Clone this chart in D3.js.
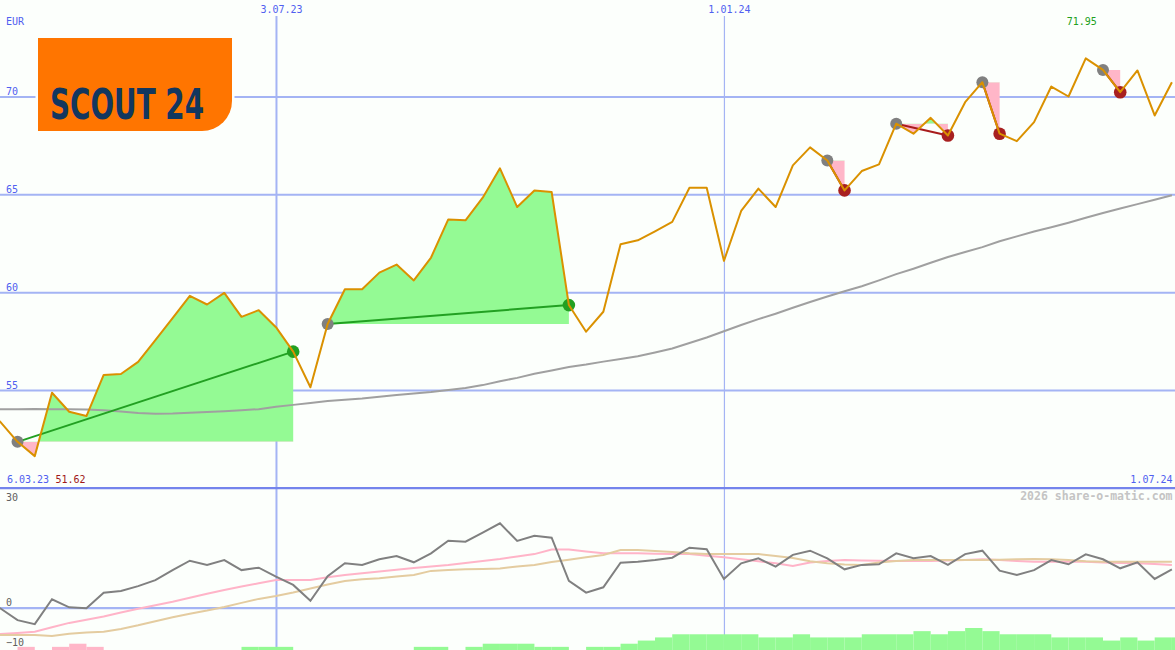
<!DOCTYPE html>
<html><head><meta charset="utf-8">
<script src="https://cdn.jsdelivr.net/npm/d3@7/dist/d3.min.js"></script>
<style>html,body{margin:0;padding:0;background:#fcfffc;}svg{display:block;}</style>
</head><body>
<svg id="c" width="1175" height="650"></svg>
<script>
// ---------- data ----------
const dates = ["2023-03-06","2023-03-13","2023-03-20","2023-03-27","2023-04-03","2023-04-10","2023-04-17","2023-04-24","2023-05-01","2023-05-08","2023-05-15","2023-05-22","2023-05-29","2023-06-05","2023-06-12","2023-06-19","2023-06-26","2023-07-03","2023-07-10","2023-07-17","2023-07-24","2023-07-31","2023-08-07","2023-08-14","2023-08-21","2023-08-28","2023-09-04","2023-09-11","2023-09-18","2023-09-25","2023-10-02","2023-10-09","2023-10-16","2023-10-23","2023-10-30","2023-11-06","2023-11-13","2023-11-20","2023-11-27","2023-12-04","2023-12-11","2023-12-18","2023-12-25","2024-01-01","2024-01-08","2024-01-15","2024-01-22","2024-01-29","2024-02-05","2024-02-12","2024-02-19","2024-02-26","2024-03-04","2024-03-11","2024-03-18","2024-03-25","2024-04-01","2024-04-08","2024-04-15","2024-04-22","2024-04-29","2024-05-06","2024-05-13","2024-05-20","2024-05-27","2024-06-03","2024-06-10","2024-06-17","2024-06-24","2024-07-01"];
const price = [54.2,53.37,52.35,51.62,54.86,53.89,53.67,55.77,55.82,56.44,57.55,58.67,59.81,59.37,59.96,58.74,59.08,58.21,56.96,55.14,58.37,60.15,60.15,61.0,61.41,60.6,61.77,63.72,63.67,64.83,66.33,64.35,65.2,65.12,59.34,57.98,59.0,62.45,62.65,63.11,63.59,65.34,65.34,61.6,64.15,65.29,64.35,66.48,67.4,66.73,65.2,66.19,66.53,68.61,68.1,68.91,68.01,69.71,70.73,68.1,67.72,68.69,70.51,70.0,71.95,71.36,70.22,71.33,69.03,70.73];
const movingAvg = [54.02,54.02,54.02,54.03,54.02,54.01,54.0,53.97,53.9,53.82,53.78,53.8,53.84,53.87,53.91,53.96,54.02,54.14,54.24,54.34,54.44,54.5,54.57,54.66,54.74,54.82,54.9,55.0,55.1,55.25,55.45,55.62,55.83,56.0,56.18,56.3,56.45,56.58,56.72,56.92,57.12,57.4,57.68,58.0,58.32,58.62,58.9,59.2,59.5,59.78,60.05,60.3,60.6,60.92,61.2,61.5,61.8,62.05,62.3,62.6,62.85,63.1,63.32,63.55,63.8,64.05,64.28,64.5,64.72,64.95];
const oscMain = [1.0,-0.15,-3.1,-4.1,2.1,0.1,-0.15,3.75,4.2,5.4,6.9,9.4,11.75,10.7,11.9,9.4,10.0,7.75,5.7,1.75,7.9,11.1,10.7,12.1,12.9,11.35,13.6,16.75,16.5,18.75,21.1,16.7,18.0,17.5,6.7,3.75,5.1,11.25,11.5,11.9,12.5,15.0,14.6,7.2,11.1,12.35,10.25,13.2,14.25,12.35,9.6,10.7,10.85,13.6,12.35,12.9,10.7,13.4,14.25,9.25,8.2,9.4,11.9,10.85,13.35,12.1,9.85,11.35,7.2,9.6];
const oscPink = [-6.8,-6.6,-6.3,-6.0,-4.9,-3.8,-3.0,-2.2,-1.2,-0.25,0.6,1.5,2.5,3.5,4.4,5.3,6.1,6.9,6.9,6.9,7.6,8.2,8.6,9.05,9.5,9.9,10.3,10.7,11.2,11.7,12.2,12.8,13.4,14.55,14.55,14.05,13.6,13.6,13.6,13.5,13.45,13.4,13.0,12.6,12.1,11.6,11.1,10.4,11.3,11.7,11.9,11.8,11.75,11.7,11.7,11.7,11.8,11.9,12.1,11.9,11.7,11.5,11.5,11.5,11.5,11.3,11.2,11.1,10.9,10.7];
const oscTan = [-6.8,-6.8,-6.8,-6.8,-7.1,-6.5,-6.2,-6.0,-5.3,-4.4,-3.4,-2.4,-1.5,-0.7,0.2,1.2,2.2,2.9,3.8,4.8,5.8,6.7,7.1,7.35,7.8,8.2,9.2,9.4,9.6,9.7,9.8,10.3,10.7,11.4,12.0,12.6,13.2,14.4,14.4,14.2,13.9,13.6,13.4,13.4,13.4,13.4,12.9,12.4,11.6,11.1,10.8,10.7,11.3,11.7,11.9,11.9,11.9,11.9,11.9,12.0,12.1,12.2,12.1,11.9,11.6,11.5,11.5,11.5,11.5,11.5];
const histogram = [0,0,-1,0,-1,-2,-1,0,0,0,0,0,0,0,0,1,1,1,0,0,0,0,0,0,0,1,1,0,1,2,2,2,1,1,0,1,1,2,3,4,5,5,5,5,5,4,4,5,4,4,4,5,5,5,6,5,6,7,6,5,5,5,4,4,4,3,4,3,4,4];
const tradeEntry = ["2023-03-20","2023-07-24","2024-02-12","2024-03-11","2024-04-15","2024-06-03"];
const tradeExit  = ["2023-07-10","2023-10-30","2024-02-19","2024-04-01","2024-04-22","2024-06-10"];
const priceTicks = [55,60,65,70];
const oscTicks = [-10,0,30];
const dateTicks = ["2023-07-03","2024-01-01"];
const currency = "EUR";
const firstDateLabel = "6.03.23";
const lastDateLabel = "1.07.24";
const credit = "2026 share-o-matic.com";
const logoText = "SCOUT 24";

// ---------- setup ----------
const W = 1175, H = 650;
const FONT = "'DejaVu Sans Mono', monospace";
const parse = d3.utcParse("%Y-%m-%d");
const D = dates.map(parse);
const idx = s => dates.indexOf(s);
const svg = d3.select("#c");
svg.append("rect").attr("width", W).attr("height", H).attr("fill", "#fcfffc");

const x = d3.scaleUtc().domain([parse("2023-03-13"), parse("2024-07-01")]).range([0.3, 1171.9]);
const y = d3.scaleLinear().domain([55, 70]).range([390, 96.5]);
const yo = d3.scaleLinear().domain([-10, 30]).range([647.7, 487.7]);
const yh = d3.scaleLinear().domain([0, 7]).range([650, 628]);

const GRID = "#a4b4f4", LBL = "#5060f0";
const GREEN = "#94fa94", PINK = "#ffb6c8";
const defs = svg.append("defs");

// ---------- vertical date grid ----------
const xAxis = d3.axisTop(x).tickValues(dateTicks.map(parse))
  .tickFormat(d3.utcFormat("%-d.%m.%y")).tickSize(-(H - 16)).tickPadding(3);
const gx = svg.append("g").attr("transform", "translate(0,16)").call(xAxis);
gx.select(".domain").remove();
gx.selectAll(".tick line").attr("stroke", GRID).attr("stroke-width", (d, i) => i === 0 ? 2 : 1.2);
gx.selectAll(".tick text").attr("fill", LBL).attr("font-family", FONT).attr("font-size", 10)
  .attr("x", 5).attr("y", -3.5).attr("dy", 0);

// ---------- horizontal price grid ----------
const yAxis = d3.axisLeft(y).tickValues(priceTicks).tickSize(-W).tickFormat(d3.format("d"));
const gy = svg.append("g").call(yAxis);
gy.select(".domain").remove();
gy.selectAll(".tick line").attr("stroke", GRID).attr("stroke-width", 2);
gy.selectAll(".tick text").attr("fill", LBL).attr("font-family", FONT).attr("font-size", 10)
  .attr("text-anchor", "start").attr("x", 6).attr("y", -2).attr("dy", 0);

// ---------- lower panel grid ----------
const oAxis = d3.axisLeft(yo).tickValues(oscTicks).tickSize(-W).tickFormat(d3.format("d"));
const go = svg.append("g").call(oAxis);
go.select(".domain").remove();
go.selectAll(".tick line")
  .attr("stroke", d => d === 30 ? "#7484ec" : GRID)
  .attr("stroke-width", d => d === -10 ? 0 : 2.2);
go.selectAll(".tick text").attr("fill", "#606060").attr("font-family", FONT).attr("font-size", 10)
  .attr("text-anchor", "start").attr("x", 6).attr("dy", 0)
  .attr("y", d => d === 30 ? 13 : -2);

// ---------- trade fills ----------
const gFill = svg.append("g");
tradeEntry.forEach((e, k) => {
  const i0 = idx(e), i1 = idx(tradeExit[k]);
  const seg = d3.range(i0, i1 + 1);
  const lvl = y(price[i0]);
  defs.append("clipPath").attr("id", "up" + k).append("rect")
    .attr("x", 0).attr("y", 0).attr("width", W).attr("height", lvl);
  defs.append("clipPath").attr("id", "dn" + k).append("rect")
    .attr("x", 0).attr("y", lvl).attr("width", W).attr("height", 487 - lvl);
  const area = d3.area().x(i => x(D[i])).y0(lvl).y1(i => y(price[i]));
  gFill.append("path").datum(seg).attr("d", area).attr("fill", GREEN).attr("clip-path", `url(#up${k})`);
  gFill.append("path").datum(seg).attr("d", area).attr("fill", PINK).attr("clip-path", `url(#dn${k})`);
});

// ---------- moving average ----------
const line = (arr, ys) => d3.line().x((d, i) => x(D[i])).y(d => ys(d))(arr);
svg.append("path").attr("d", line(movingAvg, y)).attr("fill", "none").attr("stroke", "#a0a0a0").attr("stroke-width", 2);

// ---------- trades (under the price line) ----------
const gT = svg.append("g");
tradeEntry.forEach((e, k) => {
  const i0 = idx(e), i1 = idx(tradeExit[k]);
  const win = price[i1] >= price[i0];
  gT.append("line").attr("x1", x(D[i0])).attr("y1", y(price[i0]))
    .attr("x2", x(D[i1])).attr("y2", y(price[i1]))
    .attr("stroke", win ? "#22a022" : "#a81c1c").attr("stroke-width", 2);
});
tradeEntry.forEach((e, k) => {
  const i0 = idx(e), i1 = idx(tradeExit[k]);
  const win = price[i1] >= price[i0];
  gT.append("circle").attr("cx", x(D[i0])).attr("cy", y(price[i0])).attr("r", 6).attr("fill", "#808080");
  gT.append("circle").attr("cx", x(D[i1])).attr("cy", y(price[i1])).attr("r", 6.3)
    .attr("fill", win ? "#22a022" : "#a82020");
});

// ---------- price line ----------
svg.append("path").attr("d", line(price, y)).attr("fill", "none").attr("stroke", "#da9100").attr("stroke-width", 2).attr("stroke-linejoin", "round");

// ---------- lower panel ----------
const gH = svg.append("g");
histogram.forEach((v, i) => {
  if (!v) return;
  const x0 = x(D[i]);
  const x1 = i + 1 < D.length ? x(D[i + 1]) : x0 + (x0 - x(D[i - 1]));
  gH.append("rect").attr("x", x0).attr("width", x1 - x0)
    .attr("y", yh(Math.abs(v))).attr("height", H - yh(Math.abs(v)))
    .attr("fill", v > 0 ? GREEN : PINK);
});
svg.append("path").attr("d", line(oscPink, yo)).attr("fill", "none").attr("stroke", "#ffb4c8").attr("stroke-width", 2);
svg.append("path").attr("d", line(oscTan, yo)).attr("fill", "none").attr("stroke", "#e4cca0").attr("stroke-width", 2);
svg.append("path").attr("d", line(oscMain, yo)).attr("fill", "none").attr("stroke", "#808080").attr("stroke-width", 2);

// ---------- labels ----------
const txt = (s, px, py, fill, anchor, extra) => {
  const t = svg.append("text").attr("x", px).attr("y", py).attr("fill", fill)
    .attr("font-family", FONT).attr("font-size", 10).attr("text-anchor", anchor || "start").text(s);
  if (extra) extra(t);
  return t;
};
txt(currency, 6, 25, LBL);
txt(firstDateLabel, 7, 482.5, LBL);
const minV = d3.min(price.slice(1)), maxV = d3.max(price);
txt(d3.format(".2f")(minV), 55.5, 482.5, "#a01818");
txt(lastDateLabel, 1172.5, 482.5, LBL, "end");
txt(d3.format(".2f")(maxV), x(D[price.indexOf(maxV)]) - 4, 24.5, "#20a020", "middle");
txt(credit, 1172.5, 499.5, "#c4c4c4", "end", t => t.attr("font-size", 11.5).attr("font-weight", "bold"));

// ---------- logo ----------
const gL = svg.append("g");
const logoPath = "M38,38 H232 V101 A30,30 0 0 1 202,131 H38 Z";
gL.append("path").attr("d", logoPath).attr("fill", "#fcfffc").attr("stroke", "#fcfffc").attr("stroke-width", 5);
gL.append("path").attr("d", logoPath).attr("fill", "#ff7500");
gL.append("text").attr("x", 50).attr("y", 119).attr("fill", "#12375f")
  .attr("font-family", "'DejaVu Sans Condensed', 'Liberation Sans Narrow', Roboto, sans-serif")
  .attr("font-weight", "bold").attr("font-size", 43)
  .attr("textLength", 154).attr("lengthAdjust", "spacingAndGlyphs").text(logoText);
</script>
</body></html>
